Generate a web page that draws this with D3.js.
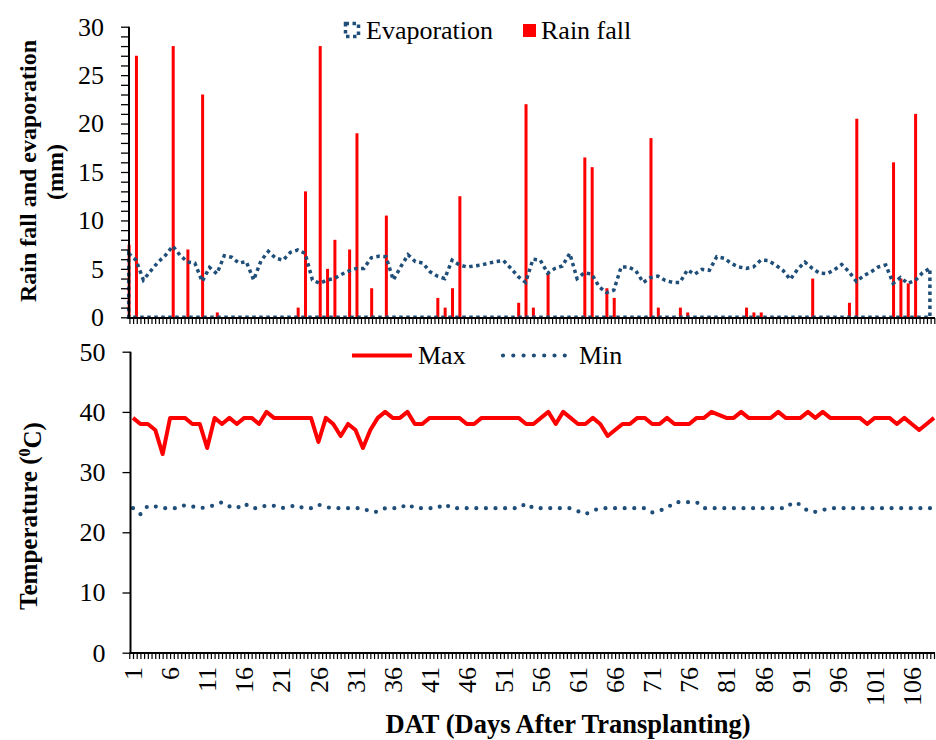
<!DOCTYPE html>
<html><head><meta charset="utf-8">
<script src="https://cdnjs.cloudflare.com/ajax/libs/d3/7.8.5/d3.min.js"></script>
<style>
body{margin:0;background:#fff}
svg{display:block}
text{font-family:"Liberation Serif","Times New Roman",serif;fill:#000}
</style></head>
<body><svg id="chart" width="936" height="740"></svg>
<script>
// ---------- DATA ----------
const evaporation = [6.6,5.9,3.85,4.8,5.7,6.4,7.35,6.4,5.7,5.6,3.7,5.15,4.5,6.35,6.2,5.6,5.75,3.85,5.85,6.8,
  6.1,5.9,6.7,6.95,6.6,3.85,3.5,3.85,4.0,4.45,4.8,5.05,5.05,6.15,6.3,6.25,3.85,5.2,6.45,5.75,
  5.6,4.7,4.25,4.0,5.9,5.4,5.2,5.3,5.4,5.6,5.75,5.85,5.05,4.2,3.6,6.0,5.9,4.55,5.05,5.3,
  6.6,4.0,4.6,4.45,3.15,2.55,2.8,5.2,5.2,4.8,3.6,4.1,4.25,3.8,3.6,3.6,4.9,4.45,4.95,4.85,
  6.25,6.1,5.55,5.2,5.05,5.2,5.9,5.85,5.4,4.85,3.9,4.95,5.7,5.05,4.55,4.5,4.9,5.45,4.7,3.7,
  4.3,4.7,5.2,5.4,3.5,4.1,3.5,3.8,4.6,5.05];
const rainDays   = [1,2,7,9,11,13,24,25,27,28,29,31,32,34,36,43,44,45,46,54,55,56,58,63,64,66,67,72,73,76,77,85,86,87,94,99,100,105,106,107,108];
const rainValues = [7.5,27,28,7,23,0.5,1,13,28,5,8,7,19,3,10.5,2,1,3,12.5,1.5,22,1,4.5,16.5,15.5,3,2,18.5,1,1,0.5,1,0.5,0.5,4,1.5,20.5,16,4,3.5,21];
const maxTemp = [39,38,38,37,33,39,39,39,38,38,34,39,38,39,38,39,39,38,40,39,
  39,39,39,39,39,35,39,38,36,38,37,34,37,39,40,39,39,40,38,38,
  39,39,39,39,39,38,38,39,39,39,39,39,39,38,38,39,40,38,40,39,
  38,38,39,38,36,37,38,38,39,39,38,38,39,38,38,38,39,39,40,39.5,
  39,39,40,39,39,39,39,40,39,39,39,40,39,40,39,39,39,39,39,38,
  39,39,39,38,39,38,37,38,39];
const minTemp = [24,23,24.4,24.3,24,24,24,24.5,24.3,24,24.2,24.5,25,24.3,24,24.8,24,24,24.5,24.4,
  24,24.2,24.5,24,24,24.6,24.2,24,24,24,24,24,23.4,23.4,24,24,24,24.7,24,24,
  24,24,24.7,24,24,24,24,24,24,24,24,24,24,24.8,24,24,24,24,24,24,
  23.5,23,23.6,24,24,24,24,24,24,24,23.3,23.6,24,25,25,25,25,24,24,24,
  24,24,24,24,24,24,24,24,24,25,24.6,23.5,23.4,23.7,24,24,24,24,24,24,
  24,24,24,24,24,24,24,24,24];
const rainTicks = [0,5,10,15,20,25,30];
const tempTicks = [0,10,20,30,40,50];
const dayLabels = [1,6,11,16,21,26,31,36,41,46,51,56,61,66,71,76,81,86,91,96,101,106];

// ---------- SETUP ----------
const svg = d3.select("#chart");
const BLUE = "#1F4E79", RED = "#FF0000";
const FS = 26;

const topDays = d3.range(1, evaporation.length + 1);
const botDays = d3.range(1, maxTemp.length + 1);

const xTop = d3.scaleLinear().domain([1, 110]).range([128.7, 929.9]);
const yTop = d3.scaleLinear().domain([0, 30]).range([317.3, 26.7]);
const xBot = d3.scaleLinear().domain([1, 109]).range([133, 934]);
const yBot = d3.scaleLinear().domain([0, 50]).range([652.7, 351.7]);

// ---------- TOP PANEL ----------
const gTop = svg.append("g");
gTop.selectAll("rect.rain").data(rainDays.map((d, i) => ({d, v: rainValues[i]})))
  .enter().append("rect").attr("class", "rain")
  .attr("x", p => xTop(p.d) - 1.1).attr("width", 3)
  .attr("y", p => yTop(p.v)).attr("height", p => yTop(0) - yTop(p.v))
  .attr("fill", RED);

const evapArea = d3.area().x((v, i) => xTop(topDays[i])).y0(yTop(0)).y1(v => yTop(v));
gTop.append("path").attr("d", evapArea(evaporation) + "Z")
  .attr("fill", "none").attr("stroke", BLUE).attr("stroke-width", 3.5)
  .attr("stroke-dasharray", "3.5 3.5");

// top y axis
const yAxTop = d3.axisLeft(yTop).tickValues(d3.range(0, 31)).tickSize(8).tickPadding(17)
  .tickFormat(d => rainTicks.includes(d) ? d : "");
const gyt = svg.append("g").attr("transform", "translate(129,0)").call(yAxTop);
gyt.select(".domain").attr("d", `M0,${yTop(30)}V318.5`).attr("stroke", "#000").attr("stroke-width", 2);
gyt.selectAll(".tick line").attr("stroke", "#000").attr("stroke-width", 1.3);
gyt.selectAll("text").style("font-size", FS + "px").style("font-family", "Liberation Serif");

// top x axis
const xAxTop = d3.axisBottom(xTop).tickValues(d3.range(1.1, 110.7, 0.5)).tickSize(6).tickFormat("");
const gxt = svg.append("g").attr("transform", "translate(0,318)").call(xAxTop);
gxt.select(".domain").attr("d", "M128,0H935").attr("stroke", "#000").attr("stroke-width", 2);
gxt.selectAll(".tick line").attr("stroke", "#000").attr("stroke-width", 1.2);

// ---------- BOTTOM PANEL ----------
const lineMax = d3.line().x((v, i) => xBot(botDays[i])).y(v => yBot(v));
svg.append("path").attr("d", lineMax(maxTemp)).attr("fill", "none")
  .attr("stroke", RED).attr("stroke-width", 4).attr("stroke-linejoin", "round");
svg.append("path").attr("d", lineMax(minTemp)).attr("fill", "none")
  .attr("stroke", BLUE).attr("stroke-width", 4.2).attr("stroke-linecap", "round")
  .attr("stroke-dasharray", "0 9.6");

const yAxBot = d3.axisLeft(yBot).tickValues(tempTicks).tickSize(8).tickPadding(17);
const gyb = svg.append("g").attr("transform", "translate(130.5,0)").call(yAxBot);
gyb.select(".domain").attr("d", `M0,${yBot(50)}V653.5`).attr("stroke", "#000").attr("stroke-width", 2);
gyb.selectAll(".tick line").attr("stroke", "#000").attr("stroke-width", 1.3);
gyb.selectAll("text").style("font-size", FS + "px").style("font-family", "Liberation Serif");

const xAxBot = d3.axisBottom(xBot).tickValues(d3.range(0.5, 109.01, 0.5)).tickSize(6).tickFormat("");
const gxb = svg.append("g").attr("transform", "translate(0,653)").call(xAxBot);
gxb.select(".domain").attr("d", "M129.5,0H935").attr("stroke", "#000").attr("stroke-width", 2);
gxb.selectAll(".tick line").attr("stroke", "#000").attr("stroke-width", 1.2);

svg.append("g").selectAll("text").data(dayLabels).enter().append("text")
  .attr("transform", d => `translate(${xBot(d)},667) rotate(-90)`)
  .attr("text-anchor", "end").attr("dy", "0.35em")
  .style("font-size", FS + "px").text(d => d);

// ---------- TITLES ----------
svg.append("text").attr("transform", "translate(28,171) rotate(-90)")
  .attr("text-anchor", "middle").attr("dy", "0.35em")
  .style("font-size", "24px").style("font-weight", "bold").text("Rain fall and evaporation");
svg.append("text").attr("transform", "translate(55,172) rotate(-90)")
  .attr("text-anchor", "middle").attr("dy", "0.35em")
  .style("font-size", "24px").style("font-weight", "bold").text("(mm)");
const tt = svg.append("text").attr("transform", "translate(28,516) rotate(-90)")
  .attr("text-anchor", "middle").attr("dy", "0.35em")
  .style("font-size", "25px").style("font-weight", "bold");
tt.append("tspan").text("Temperature (");
tt.append("tspan").attr("dy", "-0.45em").style("font-size", "16px").text("0");
tt.append("tspan").attr("dy", "0.45em").text("C)");
svg.append("text").attr("x", 568).attr("y", 733).attr("text-anchor", "middle")
  .style("font-size", "26.5px").style("font-weight", "bold").text("DAT (Days After Transplanting)");

// ---------- LEGENDS ----------
svg.append("rect").attr("x", 345.5).attr("y", 23.5).attr("width", 13).attr("height", 13)
  .attr("fill", "none").attr("stroke", BLUE).attr("stroke-width", 3.5).attr("stroke-dasharray", "3.5 3.5");
svg.append("text").attr("x", 366).attr("y", 39).style("font-size", FS + "px").text("Evaporation");
svg.append("rect").attr("x", 523).attr("y", 24).attr("width", 13).attr("height", 13).attr("fill", RED);
svg.append("text").attr("x", 541).attr("y", 39).style("font-size", FS + "px").text("Rain fall");

svg.append("line").attr("x1", 352).attr("x2", 412).attr("y1", 355.5).attr("y2", 355.5)
  .attr("stroke", RED).attr("stroke-width", 4);
svg.append("text").attr("x", 418).attr("y", 364).style("font-size", FS + "px").text("Max");
svg.append("line").attr("x1", 503).attr("x2", 565).attr("y1", 355.5).attr("y2", 355.5)
  .attr("stroke", BLUE).attr("stroke-width", 4.2).attr("stroke-linecap", "round").attr("stroke-dasharray", "0 10.3");
svg.append("text").attr("x", 579).attr("y", 364).style("font-size", FS + "px").text("Min");
</script></body></html>
